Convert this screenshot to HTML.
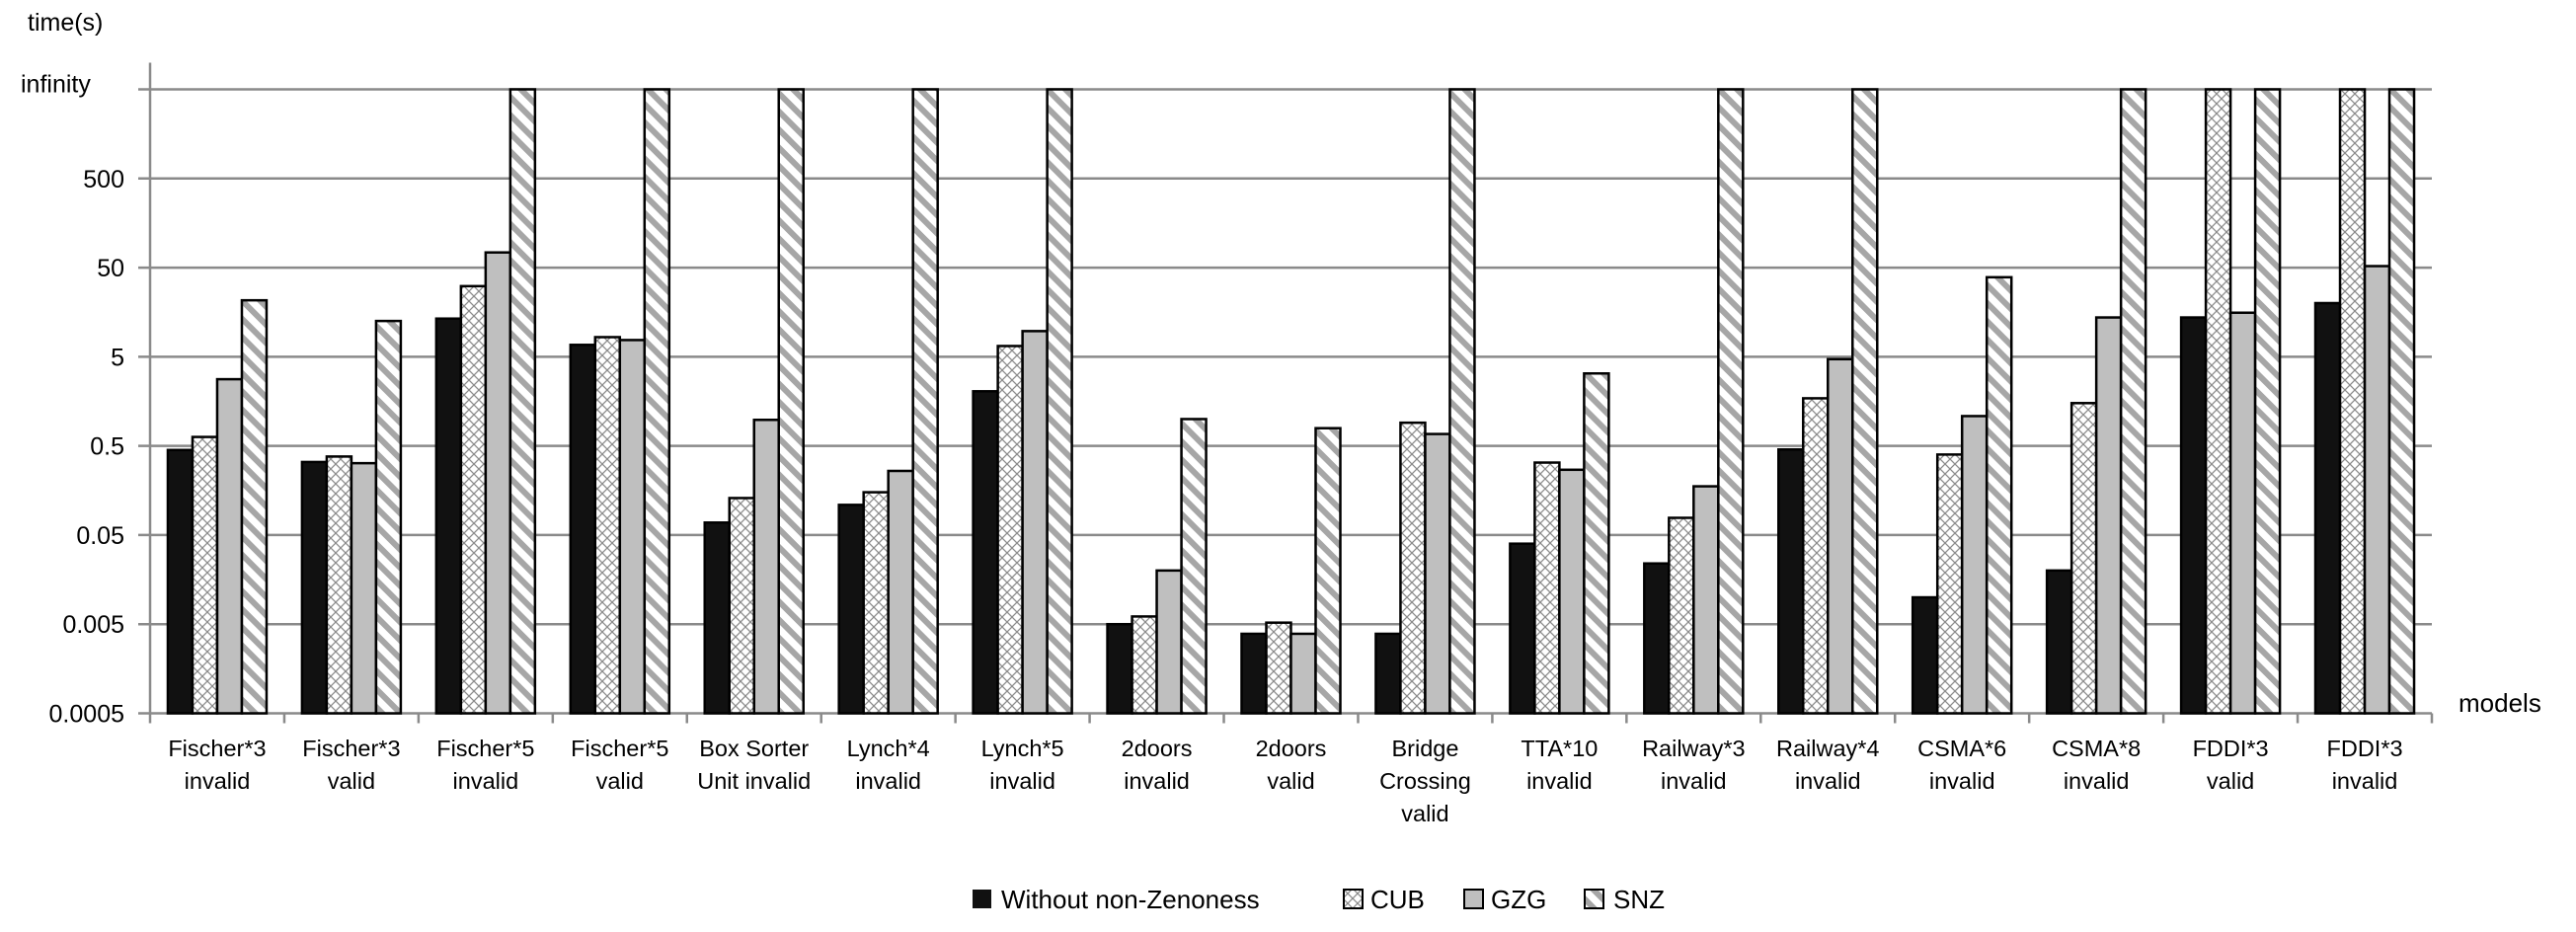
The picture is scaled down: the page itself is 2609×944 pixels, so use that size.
<!DOCTYPE html>
<html><head><meta charset="utf-8"><style>
html,body{margin:0;padding:0;background:#fff}
svg{display:block;font-family:"Liberation Sans",sans-serif}
</style></head><body>
<svg id="chart" width="2609" height="944" viewBox="0 0 2609 944" xmlns="http://www.w3.org/2000/svg">
<defs>
<pattern id="cross" patternUnits="userSpaceOnUse" width="10" height="10">
<rect width="10" height="10" fill="#fff"/>
<path d="M0,0L10,10M10,0L0,10" stroke="#8c8c8c" stroke-width="1.3"/>
</pattern>
<pattern id="diag" patternUnits="userSpaceOnUse" width="13" height="13" patternTransform="rotate(45)">
<rect width="13" height="13" fill="#fff"/>
<rect x="0" y="0" width="13" height="6" fill="#a6a6a6"/>
</pattern>
</defs>
<g id="grid"></g>
<g id="bars"></g>
<g id="axes"></g>
<text x="28" y="31" font-size="25">time(s)</text>
<text x="2490" y="721" font-size="26">models</text>
<g id="legend"></g>
</svg>
<script>
const categories = [["Fischer*3","invalid"],["Fischer*3","valid"],["Fischer*5","invalid"],["Fischer*5","valid"],["Box Sorter","Unit invalid"],["Lynch*4","invalid"],["Lynch*5","invalid"],["2doors","invalid"],["2doors","valid"],["Bridge","Crossing","valid"],["TTA*10","invalid"],["Railway*3","invalid"],["Railway*4","invalid"],["CSMA*6","invalid"],["CSMA*8","invalid"],["FDDI*3","valid"],["FDDI*3","invalid"]];
const INF = Infinity;
const seriesNames = ["Without non-Zenoness","CUB","GZG","SNZ"];
const withoutNZ = [0.45,0.33,13.4,6.8,0.069,0.109,2.05,0.005,0.0039,0.0039,0.04,0.024,0.456,0.01,0.02,13.8,20];
const cub = [0.63,0.38,31,8.3,0.13,0.151,6.6,0.0061,0.0052,0.91,0.325,0.078,1.71,0.40,1.51,INF,INF];
const gzg = [2.8,0.32,74,7.7,0.98,0.262,9.7,0.020,0.0039,0.68,0.27,0.176,4.7,1.08,13.8,15.6,52];
const snz = [21.5,12.6,INF,INF,INF,INF,INF,1.0,0.79,INF,3.25,INF,INF,39,INF,INF,INF];
const tickLabels = ["0.0005","0.005","0.05","0.5","5","50","500","infinity"];
const tickValues = [0.0005,0.005,0.05,0.5,5,50,500,5000];

const NS="http://www.w3.org/2000/svg";
const L=152,R=2463,T=90.5,B=722.5,DEC=(B-T)/7;
function y(v){ if(!isFinite(v)) v=5000; return B-DEC*Math.log10(v/0.0005); }
const cw=(R-L)/categories.length, bw=25, off=(cw-4*bw)/2;
function x(i,s){ return L+i*cw+off+s*bw; }
function mk(tag,attrs,parent){const e=document.createElementNS(NS,tag);for(const k in attrs)e.setAttribute(k,attrs[k]);parent.appendChild(e);return e;}
const grid=document.getElementById('grid'),bars=document.getElementById('bars'),axes=document.getElementById('axes'),legend=document.getElementById('legend');
tickValues.forEach((v,i)=>{
  const g=mk('line',{x1:L-12,x2:R,y1:y(v),y2:y(v),stroke:'#8a8a8a','stroke-width':2.5},grid);
  
  
  const t=mk('text',{x:i==7?21:126,y:i==7?y(v)+3:y(v)+9,'font-size':25,'text-anchor':i==7?'start':'end'},axes);
  t.textContent=tickLabels[i];
  
  
});
const fills=['#111','url(#cross)','#bfbfbf','url(#diag)'];
const data=[withoutNZ,cub,gzg,snz];
data.forEach((arr,s)=>{
  arr.forEach((v,i)=>{
    const yy=y(v);
    const r=mk('rect',{x:x(i,s),y:yy,width:bw,height:B-yy,fill:fills[s],stroke:'#000','stroke-width':2.5},bars);
    
    
  });
});
const ya=mk('line',{x1:L,x2:L,y1:T-27,y2:B,stroke:'#8a8a8a','stroke-width':2.5},axes);


for(let i=0;i<=categories.length;i++){
  const tk=mk('line',{x1:L+i*cw,x2:L+i*cw,y1:B,y2:B+10,stroke:'#8a8a8a','stroke-width':2.5},axes);
  
  
}
categories.forEach((lines,i)=>{
  lines.forEach((ln,j)=>{
    const t=mk('text',{x:L+i*cw+cw/2,y:766+j*33,'font-size':23.5,'text-anchor':'middle'},axes);
    t.textContent=ln;
    
    
  });
});
const lx=[985,1361,1483,1605], tx=[1014,1388,1510,1634];
seriesNames.forEach((n,s)=>{
  const b=mk('rect',{x:lx[s],y:901,width:19,height:19,fill:fills[s],stroke:'#000','stroke-width':s==0?0:2},legend);
  
  
  const t=mk('text',{x:tx[s],y:920,'font-size':26},legend);
  t.textContent=n;
  
  
});
</script>
</body></html>
